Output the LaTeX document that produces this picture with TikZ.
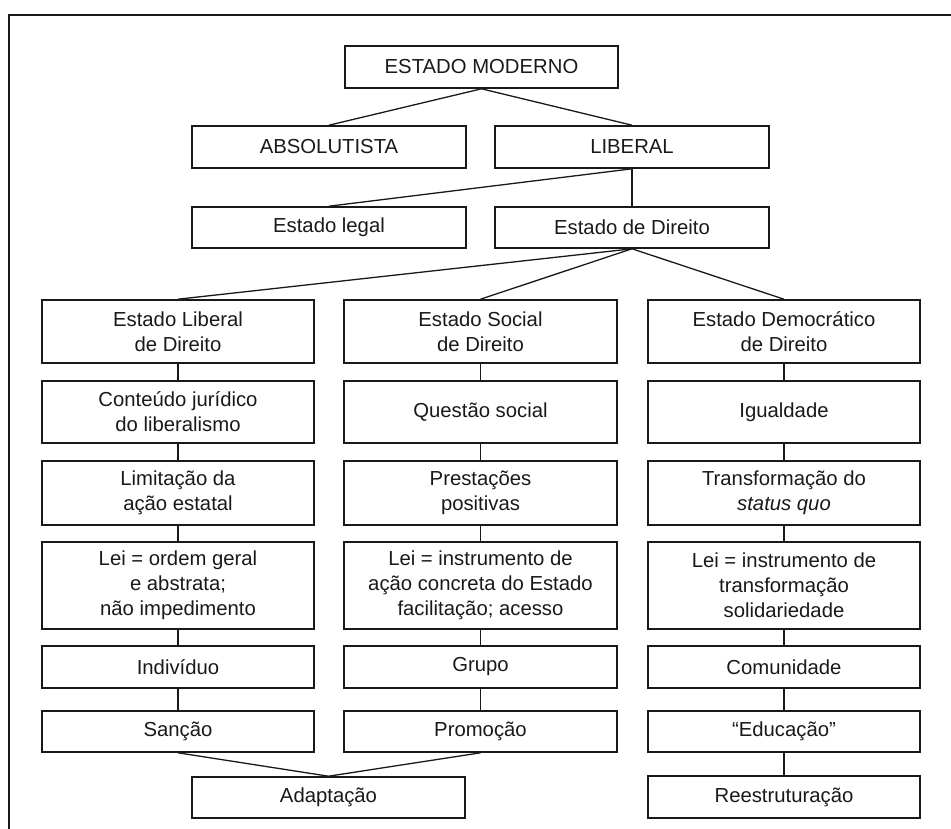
\documentclass[tikz,border=0pt]{standalone}
\usepackage{fontspec}
\setmainfont{Liberation Sans}
\begin{document}
\begin{tikzpicture}[x=1pt,y=-1pt,
  box/.style={draw=black!90, line width=1.6pt, rectangle, inner sep=0pt, align=center,
     text=black!90, font=\fontsize{20.3}{24.8}\selectfont},
  conn/.style={draw=black!90, line width=1.3pt}]
\clip (0,0) rectangle (951,828);
\useasboundingbox (0,0) rectangle (951,828);
% frame (right and bottom edges lie outside the picture)
\draw[line width=1.9pt, black!90] (9,830) -- (9,15) -- (955,15);

% top levels
\node[box, minimum width=273, minimum height=42] (em) at (481.5,67) {ESTADO MODERNO};
\node[box, minimum width=274, minimum height=42] (abs) at (329,147) {ABSOLUTISTA};
\node[box, minimum width=274, minimum height=42] (lib) at (632,147) {LIBERAL};
\node[box, minimum width=274, minimum height=41] (el) at (329,227.5) {Estado legal};
\node[box, minimum width=274, minimum height=41] (ed) at (632,227.5) {Estado de Direito};

% column 1
\node[box, minimum width=272, minimum height=63] (a1) at (178,331.5) {Estado Liberal\\de Direito};
\node[box, minimum width=272, minimum height=62] (a2) at (178,412) {Conteúdo jurídico\\do liberalismo};
\node[box, minimum width=272, minimum height=64] (a3) at (178,493) {Limitação da\\ação estatal};
\node[box, minimum width=272, minimum height=87] (a4) at (178,585.5) {Lei = ordem geral\\e abstrata;\\não impedimento};
\node[box, minimum width=272, minimum height=42] (a5) at (178,667) {Indivíduo};
\node[box, minimum width=272, minimum height=41] (a6) at (178,731.5) {Sanção};

% column 2
\node[box, minimum width=273, minimum height=63] (b1) at (480.5,331.5) {Estado Social\\de Direito};
\node[box, minimum width=273, minimum height=62] (b2) at (480.5,412) {Questão social};
\node[box, minimum width=273, minimum height=64] (b3) at (480.5,493) {Prestações\\positivas};
\node[box, minimum width=273, minimum height=87] (b4) at (480.5,585.5) {Lei = instrumento de\\ação concreta do Estado\\facilitação; acesso};
\node[box, minimum width=273, minimum height=42] (b5) at (480.5,667) {Grupo};
\node[box, minimum width=273, minimum height=41] (b6) at (480.5,731.5) {Promoção};

% column 3
\node[box, minimum width=272, minimum height=63] (c1) at (784,331.5) {Estado Democrático\\de Direito};
\node[box, minimum width=272, minimum height=62] (c2) at (784,412) {Igualdade};
\node[box, minimum width=272, minimum height=64] (c3) at (784,493) {Transformação do\\\textit{status quo}};
\node[box, minimum width=272, minimum height=87] (c4) at (784,585.5) {Lei = instrumento de\\transformação\\solidariedade};
\node[box, minimum width=272, minimum height=42] (c5) at (784,667) {Comunidade};
\node[box, minimum width=272, minimum height=41] (c6) at (784,731.5) {“Educação”};

% bottom
\node[box, minimum width=273, minimum height=41] (ad) at (328.5,797.5) {Adaptação};
\node[box, minimum width=272, minimum height=42] (re) at (784,797) {Reestruturação};

% connectors
\draw[conn] (em.south) -- (abs.north);
\draw[conn] (em.south) -- (lib.north);
\draw[conn] (lib.south) -- (el.north);
\draw[conn] (lib.south) -- (ed.north);
\draw[conn] (ed.south) -- (a1.north);
\draw[conn] (ed.south) -- (b1.north);
\draw[conn] (ed.south) -- (c1.north);
\foreach \c in {a,b,c}{
  \draw[conn] (\c1.south) -- (\c2.north);
  \draw[conn] (\c2.south) -- (\c3.north);
  \draw[conn] (\c3.south) -- (\c4.north);
  \draw[conn] (\c4.south) -- (\c5.north);
  \draw[conn] (\c5.south) -- (\c6.north);
}
\draw[conn] (a6.south) -- (ad.north);
\draw[conn] (b6.south) -- (ad.north);
\draw[conn] (c6.south) -- (re.north);
\end{tikzpicture}
\end{document}
